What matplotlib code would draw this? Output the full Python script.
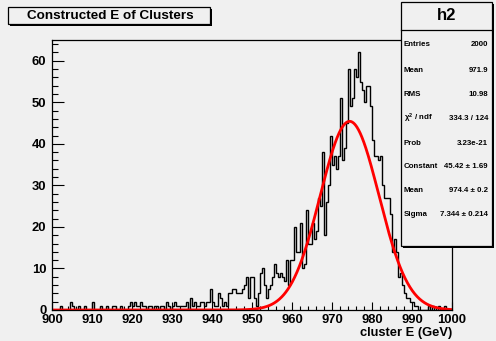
import numpy as np
import matplotlib.pyplot as plt
from matplotlib.patches import Rectangle
from matplotlib.ticker import MultipleLocator

plt.rcParams['font.family'] = ['Liberation Sans', 'DejaVu Sans']
plt.rcParams['mathtext.fontset'] = 'custom'
plt.rcParams['mathtext.rm'] = 'Liberation Sans:bold'
plt.rcParams['mathtext.it'] = 'Liberation Sans:bold'

# ---- histogram h2: cluster energy, 200 bins of 0.5 GeV over [900, 1000] ----
x_min, x_max, n_bins = 900.0, 1000.0, 200
counts = [
    0, 0, 0, 0, 1, 0, 0, 0, 0, 2, 1, 0, 0, 1, 0, 0, 1, 0, 0, 0,
    2, 0, 0, 0, 1, 0, 0, 1, 0, 0, 1, 1, 0, 0, 1, 0, 0, 0, 1, 2,
    1, 2, 1, 1, 2, 1, 1, 0, 1, 1, 0, 1, 1, 0, 1, 1, 0, 2, 1, 0,
    1, 2, 1, 1, 1, 1, 1, 2, 0, 3, 1, 2, 1, 1, 2, 2, 1, 2, 2, 5,
    2, 1, 1, 4, 3, 1, 2, 1, 4, 4, 5, 5, 4, 4, 4, 5, 6, 8, 3, 8,
    8, 3, 1, 4, 9, 10, 6, 3, 5, 6, 8, 11, 9, 8, 9, 8, 7, 12, 6, 12,
    12, 20, 14, 14, 21, 10, 11, 24, 16, 16, 21, 17, 19, 27, 25, 38, 18, 26, 30, 42,
    35, 37, 34, 37, 51, 36, 39, 45, 58, 49, 51, 58, 56, 62, 55, 53, 50, 54, 54, 49,
    41, 37, 37, 36, 37, 30, 27, 27, 27, 23, 14, 17, 14, 8, 9, 6, 4, 3, 3, 2,
    2, 1, 1, 0, 0, 0, 0, 0, 1, 0, 1, 0, 0, 1, 0, 0, 1, 0, 0, 0,
]

# Gaussian fit result
fit_constant = 45.42
fit_mean = 974.4
fit_sigma = 7.344

title_text = "Constructed E of Clusters"
x_title = "cluster E (GeV)"
stats_name = "h2"
stats_labels = ["Entries", "Mean", "RMS", r"$\chi^{2}$ / ndf", "Prob",
                "Constant", "Mean", "Sigma"]
stats_values = ["2000", "971.9", "10.98", "334.3 / 124", "3.23e-21",
                "45.42 \u00b1 1.69", "974.4 \u00b1 0.2", "7.344 \u00b1 0.214"]

W, H = 496, 341
BG = '#f0f0f0'
fig = plt.figure(figsize=(W / 100, H / 100), dpi=100, facecolor=BG)


def fx(px):
    return px / W


def fy(py):
    return 1 - py / H


ax = fig.add_axes([fx(52), fy(310), fx(452) - fx(52), fy(40) - fy(310)])
ax.set_facecolor(BG)

edges = np.linspace(x_min, x_max, n_bins + 1)
ax.stairs(counts, edges, color='black', lw=1.0, baseline=0)

xf = np.linspace(x_min, x_max, 1000)
yf = fit_constant * np.exp(-0.5 * ((xf - fit_mean) / fit_sigma) ** 2)
ax.plot(xf, yf, color='#ff0000', lw=2.0)

ax.set_xlim(x_min, x_max)
ax.set_ylim(0, 65)
ax.xaxis.set_major_locator(MultipleLocator(10))
ax.xaxis.set_minor_locator(MultipleLocator(2))
ax.yaxis.set_major_locator(MultipleLocator(10))
ax.yaxis.set_minor_locator(MultipleLocator(2))
ax.tick_params(axis='x', which='major', direction='in', length=5.8, width=0.8,
               pad=3, labelsize=9.4)
ax.tick_params(axis='x', which='minor', direction='in', length=2.9, width=0.8)
ax.tick_params(axis='y', which='major', direction='in', length=8.6, width=0.8,
               pad=4, labelsize=9.4)
ax.tick_params(axis='y', which='minor', direction='in', length=4.3, width=0.8)
for lab in ax.get_xticklabels() + ax.get_yticklabels():
    lab.set_fontweight('bold')
for sp in ax.spines.values():
    sp.set_linewidth(0.9)

fig.text(fx(452), fy(333), x_title, ha='right', va='center',
         fontsize=9.3, fontweight='bold')


def pave(x0, y0, x1, y1, shadow=2):
    fig.patches.append(Rectangle((fx(x0 + shadow), fy(y1 + shadow)),
                                 fx(x1 - x0), fy(y0) - fy(y1),
                                 transform=fig.transFigure, facecolor='black',
                                 edgecolor='black', lw=0, zorder=4))
    fig.patches.append(Rectangle((fx(x0), fy(y1)), fx(x1 - x0), fy(y0) - fy(y1),
                                 transform=fig.transFigure, facecolor=BG,
                                 edgecolor='black', lw=0.9, zorder=5))


# title box
pave(8, 7, 210, 24)
fig.text(fx(110), fy(16), title_text, ha='center', va='center',
         fontsize=9.7, fontweight='bold', zorder=6)

# statistics box
pave(401, 2, 492, 246)
fig.lines.append(plt.Line2D([fx(401), fx(492)], [fy(30), fy(30)],
                            transform=fig.transFigure, color='black', lw=0.9,
                            zorder=6))
fig.text(fx(446.5), fy(16), stats_name, ha='center', va='center',
         fontsize=12, fontweight='bold', zorder=6)
row_y = [44, 70, 94, 118, 143, 167, 191, 215]
for yy, lab, val in zip(row_y, stats_labels, stats_values):
    fig.text(fx(404), fy(yy), lab, ha='left', va='center', fontsize=5.7,
             fontweight='bold', zorder=6)
    fig.text(fx(488), fy(yy), val, ha='right', va='center', fontsize=5.7,
             fontweight='bold', zorder=6)

fig.savefig('out.png', dpi=100, facecolor=BG)
